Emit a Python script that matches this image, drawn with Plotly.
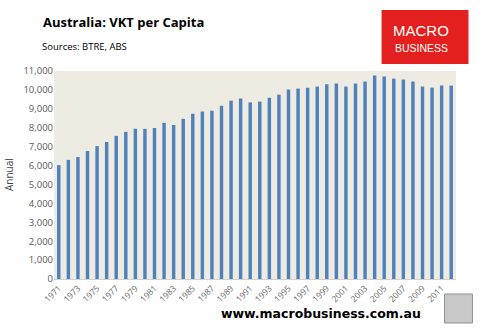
import plotly.graph_objects as go

years = list(range(1971, 2013))
vkt = [6020, 6300, 6450, 6770, 7030, 7250, 7570, 7780, 7940, 7940,
       7990, 8260, 8150, 8470, 8740, 8860, 8900, 9165, 9430, 9540,
       9340, 9380, 9590, 9750, 10020, 10070, 10120, 10180, 10300, 10340,
       10180, 10340, 10440, 10760, 10710, 10600, 10550, 10440, 10180, 10120,
       10230, 10230]
tick_years = list(range(1971, 2012, 2))
y_ticks = list(range(0, 11001, 1000))

L, R, T, B = 54, 456.5, 71, 279
W, H = R - L, B - T


def px(x):
    return (x - L) / W


def py(y):
    return (B - y) / H


fig = go.Figure()
fig.add_trace(go.Bar(x=years, y=vkt, marker_color="#4F81BD", marker_line_width=0))

fig.update_layout(
    width=480, height=330,
    margin=dict(l=L, r=480 - R, t=T, b=330 - B, autoexpand=False),
    paper_bgcolor="white",
    plot_bgcolor="#EEECE2",
    bargap=0.64,
    showlegend=False,
    font=dict(family="Open Sans", color="#595959"),
    xaxis=dict(
        range=[1970.5, 2012.5],
        tickmode="array", tickvals=tick_years,
        ticktext=[str(y) for y in tick_years],
        tickangle=-45,
        tickfont=dict(size=8.5, color="#666666"),
        showgrid=False, zeroline=False,
        showline=True, linecolor="#D0D0D0", linewidth=1,
        ticks="", ticklen=0, automargin=False,
    ),
    yaxis=dict(
        range=[0, 11000],
        tickmode="array", tickvals=y_ticks,
        ticktext=[f"{v:,}" for v in y_ticks],
        tickfont=dict(size=9.5, color="#595959"),
        showgrid=False, zeroline=False, showline=False,
        ticks="", ticklen=0, automargin=False,
    ),
)

fig.add_annotation(x=px(9), y=py(175), xref="paper", yref="paper",
                   text="Annual", showarrow=False, textangle=-90,
                   xanchor="center", yanchor="middle",
                   font=dict(size=10, color="#404040"))

fig.add_annotation(x=px(41), y=py(22), xref="paper", yref="paper",
                   text="<b>Australia: VKT per Capita</b>", showarrow=False,
                   xanchor="left", yanchor="middle",
                   font=dict(size=13, color="black", family="Open Sans"))
fig.add_annotation(x=px(40), y=py(46), xref="paper", yref="paper",
                   text="Sources: BTRE, ABS", showarrow=False,
                   xanchor="left", yanchor="middle",
                   font=dict(size=9.5, color="black", family="Open Sans"))

# logo box
fig.add_shape(type="rect", xref="paper", yref="paper",
              x0=px(382), x1=px(469), y0=py(64), y1=py(10),
              fillcolor="#E3201E", line_width=0, layer="above")
fig.add_annotation(x=px(421.5), y=py(30), xref="paper", yref="paper",
                   text="MACRO", showarrow=False, xanchor="center", yanchor="middle",
                   font=dict(size=15, color="white", family="Liberation Sans"))
fig.add_annotation(x=px(421.5), y=py(48), xref="paper", yref="paper",
                   text="BUSINESS", showarrow=False, xanchor="center", yanchor="middle",
                   font=dict(size=10.5, color="white", family="Liberation Sans"))

# website
fig.add_annotation(x=px(321), y=py(313), xref="paper", yref="paper",
                   text="<b>www.macrobusiness.com.au</b>", showarrow=False,
                   xanchor="center", yanchor="middle",
                   font=dict(size=12.5, color="black", family="DejaVu Sans"))

# wolf image placeholder
fig.add_shape(type="rect", xref="paper", yref="paper",
              x0=px(445), x1=px(473), y0=py(323), y1=py(294),
              fillcolor="#C8C8C8", line=dict(color="#909090", width=1), layer="above")

fig.write_html("out.html")
